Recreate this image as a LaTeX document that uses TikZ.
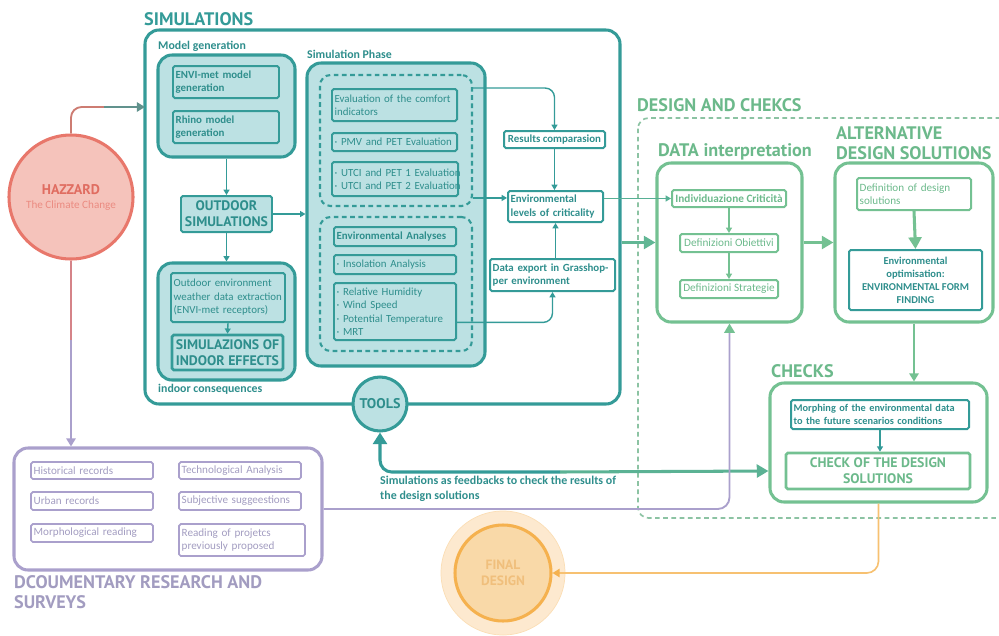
\documentclass[tikz,border=0pt]{standalone}
\usepackage{fontspec}
\setmainfont{Carlito}
\newfontfamily\headfont{PT Sans}
\usetikzlibrary{arrows.meta}

\definecolor{simteal}{HTML}{349B98}
\definecolor{simtext}{HTML}{2E8E8C}
\definecolor{simfill}{HTML}{BCE1E3}
\definecolor{desgreen}{HTML}{74C192}
\definecolor{destext}{HTML}{6CB98B}
\definecolor{desdash}{HTML}{8CC3A3}
\definecolor{docline}{HTML}{AAA0CC}
\definecolor{doctext}{HTML}{A29CC0}
\definecolor{hazline}{HTML}{E8776B}
\definecolor{hazfill}{HTML}{F5C3BB}
\definecolor{haztext}{HTML}{E06D61}
\definecolor{finline}{HTML}{F5B14E}
\definecolor{finfill}{HTML}{F9D9A8}
\definecolor{finhalo}{HTML}{FDE9CF}
\definecolor{fintext}{HTML}{F0BF7C}

\tikzset{
  bodyfont/.style={font=\fontsize{9.3}{11.5}\selectfont},
  boldtext/.style={font=\bfseries\fontsize{9.3}{11.5}\selectfont},
  headtext/.style={font=\headfont\bfseries\fontsize{15.5}{17}\selectfont, inner sep=0pt},
  capsfont/.style={font=\headfont\bfseries\fontsize{11.8}{13.5}\selectfont},
  subtitle/.style={font=\bfseries\fontsize{10.1}{12}\selectfont, text=simtext, anchor=west, inner sep=0pt},
  tealbox/.style={draw=simteal, line width=1.7pt, rounded corners=1.5pt, text=simtext, bodyfont,
    inner xsep=0.8mm, inner ysep=0pt, align=left},
  greenbox/.style={tealbox, draw=desgreen, text=destext},
  docbox/.style={tealbox, draw=docline, text=doctext, line width=1.5pt, font=\fontsize{9.5}{11.5}\selectfont},
  bigbox/.style={line width=2.6pt, rounded corners=12pt},
  dashbox/.style={draw=simteal, line width=1.8pt, rounded corners=9pt, dash pattern=on 4pt off 3pt},
  link/.style={line width=1.2pt, -{Triangle[length=4.5pt,width=5pt]}},
  mid link/.style={line width=1.8pt, -{Triangle[length=7pt,width=8pt]}},
  thick link/.style={line width=2.6pt, -{Triangle[length=10pt,width=11pt]}},
  wh/.style 2 args={minimum width=#1mm, minimum height=#2mm},
}

\begin{document}
\begin{tikzpicture}[x=0.3mm,y=-0.3mm]
% laid out on a 999 x 635 grid, y running down
\useasboundingbox (0,0) rectangle (999,635);
\global\def\tealdraw{\draw[link,simteal]}
\global\def\greendraw{\draw[link,desgreen]}

\node[bigbox, draw=simteal, wh={142.5}{112.2}] (simbox) at (382.5,217) {};
\node[headtext, text=simteal, anchor=west] (simtitle) at (144,19) {SIMULATIONS};
\node[subtitle] (mgtitle) at (158,46) {Model generation};
\node[bigbox, draw=simteal, fill=simfill, wh={41.1}{30.6}] (modelgen) at (226.5,106) {};
\node[tealbox, boldtext, text width=30.2mm, wh={31.8}{9.6}] (envi) at (226,82) {ENVI-met model\\generation};
\node[tealbox, boldtext, text width=30.2mm, wh={31.8}{9.6}] (rhino) at (226,127) {Rhino model\\generation};
\node[tealbox, capsfont, align=center, fill=simfill, wh={27.3}{10.8}] (outdoor) at (226.5,214) {OUTDOOR\\SIMULATIONS};
\node[bigbox, draw=simteal, fill=simfill, wh={41.1}{35.1}] (indoor) at (226.5,321.5) {};
\node[tealbox, text width=32.6mm, wh={34.2}{14.7}] (extract) at (228,297.5) {Outdoor environment\\weather data extraction\\(ENVI-met receptors)};
\node[tealbox, capsfont, align=center, line width=2.2pt, wh={33.3}{10.5}] (indoorfx) at (227.5,352.5) {SIMULAZIONS OF\\INDOOR EFFECTS};
\node[subtitle] (indtitle) at (158,389) {indoor consequences};

\node[subtitle] (sptitle) at (307,54) {Simulation Phase};
\node[bigbox, draw=simteal, fill=simfill, wh={53.4}{90.9}] (simphase) at (396,214.5) {};
\node[dashbox, wh={45.6}{39.3}] (comfortset) at (396,140.5) {};
\node[tealbox, text width=35.9mm, wh={37.5}{9.6}] (comfort) at (394.5,105) {Evaluation of the comfort\\indicators};
\node[tealbox, text width=35.9mm, wh={37.5}{5.4}] (pmv) at (394.5,142) {· PMV and PET Evaluation};
\node[tealbox, text width=36.2mm, wh={37.8}{10.2}] (utci) at (395,179) {\mbox{· UTCI and PET 1 Evaluation}\\\mbox{· UTCI and PET 2 Evaluation}};
\node[dashbox, wh={45.6}{40.2}] (envset) at (396,284) {};
\node[tealbox, boldtext, text width=35mm, wh={36.6}{5.7}] (envan) at (395,236.5) {Environmental Analyses};
\node[tealbox, text width=35mm, wh={36.6}{5.7}] (insol) at (395,264.5) {· Insolation Analysis};
\node[tealbox, text width=35mm, wh={36.6}{17.1}] (params) at (395,311.5) {· Relative Humidity\\· Wind Speed\\· Potential Temperature\\· MRT};

\node[tealbox, boldtext, align=center, wh={30.3}{5.1}] (results) at (554.5,139.5) {Results comparasion};
\node[tealbox, boldtext, text width=26.9mm, wh={28.5}{9.3}] (envlev) at (555.5,206.5) {Environmental\\levels of criticality};
\node[tealbox, boldtext, text width=35.9mm, wh={37.5}{9.6}] (export) at (552.5,275) {Data export in Grasshop-\\per environment};
\node[circle, draw=simteal, fill=simfill, line width=2.6pt, minimum size=16.2mm, inner sep=0pt,
  text=simtext, font=\headfont\bfseries\fontsize{12}{14}\selectfont] (tools) at (380,404) {TOOLS};

\node[circle, draw=hazline, fill=hazfill, line width=2.6pt, minimum size=37.2mm, inner sep=0pt,
  align=center, text=haztext] (hazard) at (71,197)
  {{\headfont\bfseries\fontsize{12}{14}\selectfont HAZZARD}\\{\fontsize{9.5}{11}\selectfont\color{hazline!85}The Climate Change}};

\node[headtext, text=destext, anchor=west] (destitle) at (637,105) {DESIGN AND CHEKCS};
\draw[desdash, line width=1.4pt, dash pattern=on 4pt off 3pt, rounded corners=9pt] (638,118) rectangle (1030,518);
\node[headtext, text=destext, anchor=west] (dititle) at (658,152) {DATA interpretation};
\node[bigbox, draw=desgreen, wh={43.5}{47.7}] (datint) at (729.5,242.5) {};
\node[greenbox, boldtext, font=\bfseries\fontsize{9.6}{11.5}\selectfont, align=center, wh={34.2}{5.1}] (crit) at (729,198.5) {Individuazione Criticità};
\node[greenbox, align=center, font=\fontsize{9.6}{11.5}\selectfont, wh={29.4}{5.4}] (obj) at (729,243) {Definizioni Obiettivi};
\node[greenbox, align=center, font=\fontsize{9.6}{11.5}\selectfont, wh={29.4}{5.4}] (strat) at (729,289) {Definizioni Strategie};

\node[headtext, text=destext, anchor=west, align=left] (alttitle) at (836,143) {ALTERNATIVE\\DESIGN SOLUTIONS};
\node[bigbox, draw=desgreen, wh={47.4}{47.7}] (alt) at (914,242.5) {};
\node[greenbox, font=\fontsize{9.5}{11.5}\selectfont, text width=32.6mm, wh={34.2}{9.6}] (defsol) at (914,194) {Definition of design\\solutions};
\node[tealbox, align=center, font=\bfseries\fontsize{9}{11}\selectfont, wh={39.9}{18}] (envopt) at (915.5,280)
  {Environmental\\optimisation:\\ENVIRONMENTAL FORM\\FINDING};

\node[headtext, text=destext, anchor=west] (chtitle) at (771,371) {CHECKS};
\node[bigbox, draw=desgreen, wh={65.1}{35.7}] (checks) at (878.5,442.5) {};
\node[tealbox, font=\bfseries\fontsize{8.8}{10.8}\selectfont, text width=51.8mm, wh={53.4}{8.7}] (morph) at (880,414.5)
  {Morphing of the environmental data\\to the future scenarios conditions};
\node[greenbox, capsfont, align=center, line width=2.2pt, wh={55.2}{10.8}] (checkds) at (878,471) {CHECK OF THE DESIGN\\SOLUTIONS};

\node[bigbox, draw=docline, wh={92.4}{36.6}] (docs) at (168,509) {};
\node[docbox, text width=35mm, wh={36.6}{5.1}] (hist) at (92,470.5) {Historical records};
\node[docbox, text width=35mm, wh={36.6}{5.4}] (urban) at (92,501) {Urban records};
\node[docbox, text width=35mm, wh={36.6}{5.4}] (morpho) at (92,533) {Morphological reading};
\node[docbox, text width=35mm, wh={36.6}{5.1}] (tech) at (240,470.5) {Technological Analysis};
\node[docbox, text width=35mm, wh={36.6}{5.4}] (subj) at (240,501) {Subjective suggeestions};
\node[docbox, text width=36.2mm, wh={37.8}{9.6}] (reading) at (242,540) {Reading of projetcs\\previously proposed};
\node[headtext, text=doctext, anchor=west, align=left] (doctitle) at (14,592) {DCOUMENTARY RESEARCH AND\\SURVEYS};

\node[circle, fill=finhalo, draw=finhalo!80!finline, line width=0.6pt, minimum size=37.2mm] (halo) at (503,573) {};
\node[circle, draw=finline, fill=finfill, line width=2.6pt, minimum size=28.8mm, inner sep=0pt, align=center,
  text=fintext, font=\headfont\bfseries\fontsize{11.5}{13.5}\selectfont] (final) at (503,573) {FINAL\\DESIGN};

\coordinate (simin) at (145,107);
\coordinate (hzturn) at (104,107);
\coordinate (hzdown) at (71,340);
\draw[hazline!85!simteal, line width=1.6pt, rounded corners=9pt] (hazard.north) |- (hzturn);
\draw[mid link, simteal!75!hazline] (hzturn) -- (simin);
\draw[hazline!70!docline, line width=1.6pt] (hazard.south) -- (hzdown);
\draw[mid link, docline] (hzdown) -- (docs.north -| hazard.south);

\tealdraw (modelgen.south) -- (outdoor.north);
\tealdraw (outdoor.east) -- (outdoor.east -| simphase.west);
\tealdraw (outdoor.south) -- (indoor.north);
\tealdraw (extract.south) -- (indoorfx.north);
\tealdraw[rounded corners=8pt] (comfortset.east |- comfort.north) -| (results.north);
\tealdraw (results.south) -- (results.south |- envlev.north);
\tealdraw (comfortset.east |- envlev.170) -- (envlev.170);
\tealdraw (envlev.south |- export.north) -- (envlev.south);
\tealdraw[rounded corners=8pt] (params.-10) -| (export.south);

\draw[link, simteal!45!desgreen] (envlev.east |- crit.west) -- (crit.west);
\draw[thick link, desgreen!70!simteal] (simbox.east |- datint.west) -- (datint.west);
\greendraw (crit.south) -- (obj.north);
\greendraw (obj.south) -- (strat.north);
\draw[thick link, desgreen] (datint.east) -- (alt.west);
\draw[thick link, desgreen] (defsol.south) -- (envopt.north);
\draw[mid link, desgreen] (alt.south) -- (alt.south |- checks.north);
\tealdraw (morph.south) -- (morph.south |- checkds.north);

\coordinate (fbturn) at (560,472);
\draw[simteal, line width=2.6pt, rounded corners=10pt, {Triangle[length=10pt,width=12pt]}-] (tools.south) |- (fbturn);
\draw[thick link, simteal!40!desgreen] (fbturn) -- (checks.west |- checkds.west);
\node[anchor=north west, align=left, text=simtext, font=\bfseries\fontsize{10.2}{12.5}\selectfont, inner sep=0pt] (fbnote)
  at (380,476) {Simulations as feedbacks to check the results of\\the design solutions};

\draw[docline, line width=1.6pt, rounded corners=10pt, -{Triangle[length=8pt,width=9pt,color=desgreen]}] (docs.east) -| (datint.south);
\draw[finline!80!white, line width=1.4pt, rounded corners=10pt, -{Triangle[length=6pt,width=7pt,color=finline]}] (checks.south) |- (final.east);
\end{tikzpicture}
\end{document}
